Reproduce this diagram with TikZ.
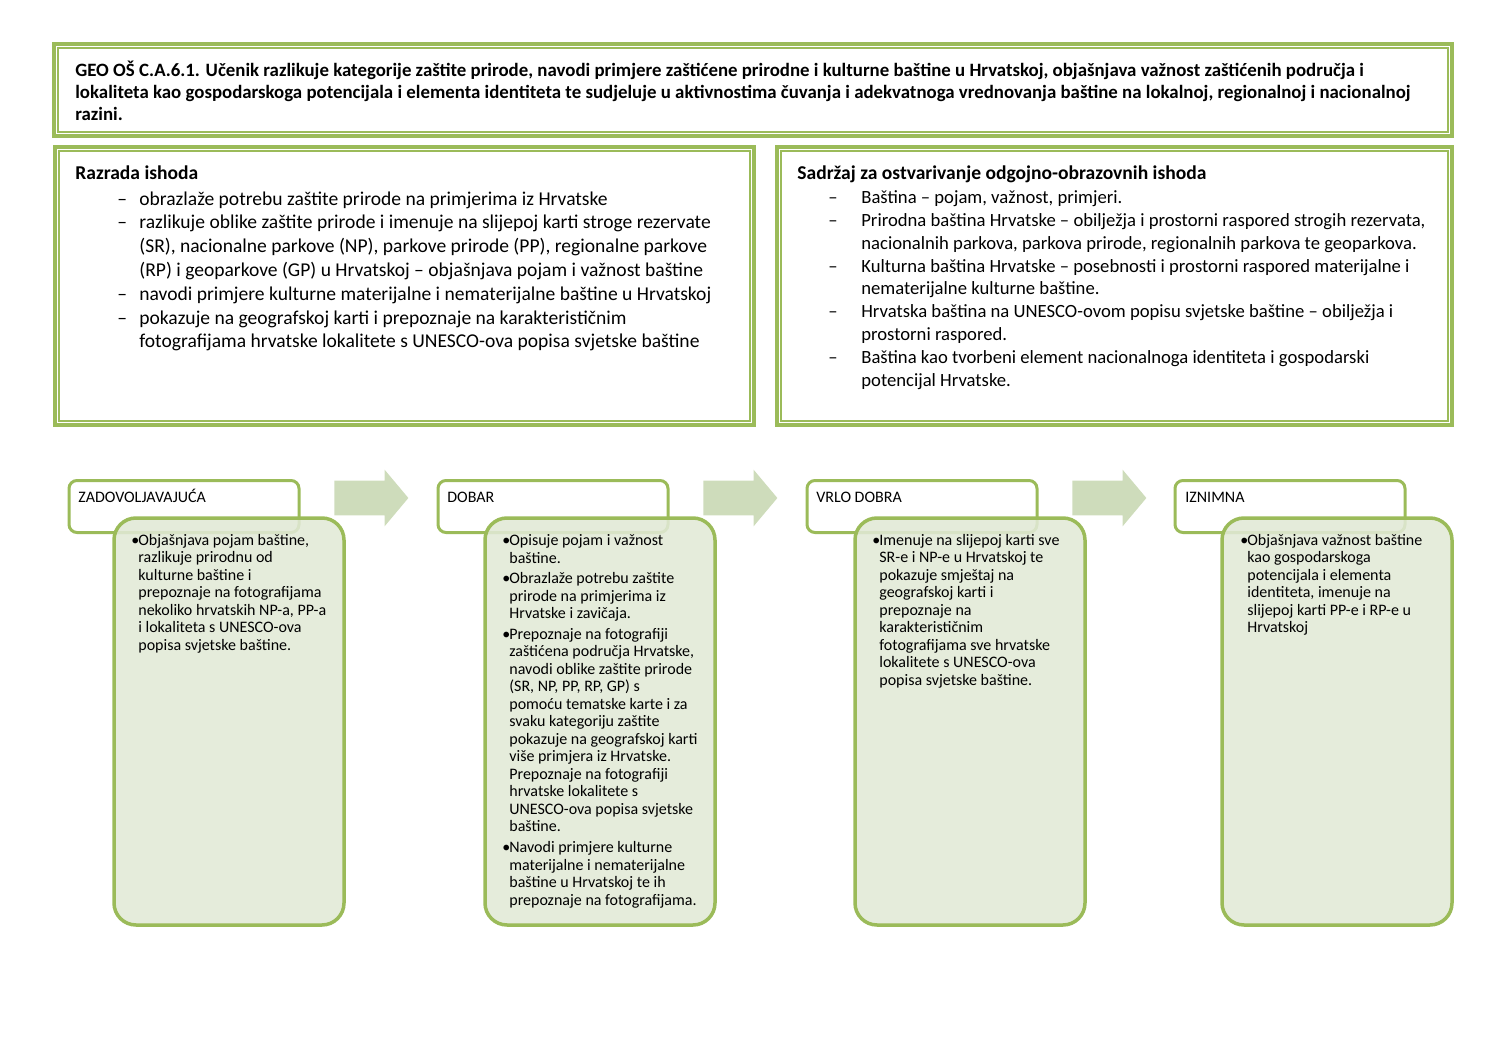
\documentclass[tikz,border=0pt]{standalone}
\usepackage{fontspec}
\setmainfont{Carlito}
\usepackage{xcolor}
\usetikzlibrary{shapes.arrows, positioning}
\definecolor{olivegreen}{HTML}{9BBB59}
\definecolor{palegreen}{HTML}{E1E9D6}
\definecolor{arrowgreen}{HTML}{CEDCBB}
\newlength\unitpx
\setlength\unitpx{0.5625pt}
\setlength\lineskiplimit{-\maxdimen}
\newcommand{\ditem}[1]{\hspace*{#1\unitpx}\makebox[\dimexpr 64\unitpx-#1\unitpx\relax][l]{–}}
\newcommand{\cont}{\hspace*{64\unitpx}}
\newcommand{\bul}{\makebox[7\unitpx][l]{\textbullet}}
\newcommand{\hang}{\hspace*{7\unitpx}}
\tikzset{
  outerframe/.style={rectangle, draw=olivegreen, line width=4\unitpx, inner sep=0pt},
  innerframe/.style={draw=olivegreen, line width=1.5\unitpx},
  hdrbox/.style={rectangle, rounded corners=8\unitpx, draw=olivegreen, line width=3\unitpx, fill=white,
                 minimum width=230\unitpx, minimum height=52\unitpx, inner sep=0pt},
  bodybox/.style={rectangle, rounded corners=22\unitpx, draw=olivegreen, line width=3.5\unitpx,
                  fill=palegreen, fill opacity=0.88, draw opacity=1,
                  minimum width=230\unitpx, minimum height=407\unitpx, inner sep=0pt},
  steparrow/.style={single arrow, fill=arrowgreen, draw=none, inner xsep=0pt, inner ysep=17\unitpx,
                    single arrow head extend=11\unitpx, single arrow tip angle=100,
                    minimum height=74\unitpx, anchor=west},
  % multi-line nodes: the base is the baseline of the last line
  toptext/.style={anchor=base west, inner sep=0pt, align=left, font=\fontsize{10.6}{12.4}\selectfont\bfseries},
  listtext/.style={anchor=base west, inner sep=0pt, align=left},
  hdrtext/.style={anchor=base west, inner sep=0pt, font=\fontsize{9}{9.8}\selectfont},
  bodytext/.style={anchor=base west, inner sep=0pt, align=left, font=\fontsize{9}{9.84}\selectfont},
}

\begin{document}
\begin{tikzpicture}[x=0.5625pt, y=-0.5625pt]
\useasboundingbox (0,0) rectangle (1497,1058);

% outcome and the two upper frames
\node[outerframe, minimum width=1398\unitpx, minimum height=92\unitpx] (topframe) at (753,90) {};
\draw[innerframe] ([shift={(6,6)}]topframe.north west) rectangle ([shift={(-6,-6)}]topframe.south east);
\node[outerframe, minimum width=699\unitpx, minimum height=278\unitpx] (razframe) at (404.5,286) {};
\draw[innerframe] ([shift={(6,6)}]razframe.north west) rectangle ([shift={(-6,-6)}]razframe.south east);
\node[outerframe, minimum width=675\unitpx, minimum height=278\unitpx] (sadframe) at (1114.5,286) {};
\draw[innerframe] ([shift={(6,6)}]sadframe.north west) rectangle ([shift={(-6,-6)}]sadframe.south east);

\node[toptext] (ishod) at (75,121) {GEO OŠ C.A.6.1. Učenik razlikuje kategorije zaštite prirode, navodi primjere zaštićene prirodne i kulturne baštine u Hrvatskoj, objašnjava važnost zaštićenih područja i\\
lokaliteta kao gospodarskoga potencijala i elementa identiteta te sudjeluje u aktivnostima čuvanja i adekvatnoga vrednovanja baštine na lokalnoj, regionalnoj i nacionalnoj\\
razini.};

\node[listtext, font=\fontsize{11}{13.4}\selectfont] (razrada) at (75,348) {\textbf{Razrada ishoda}\\[0.7pt]
\ditem{42}obrazlaže potrebu zaštite prirode na primjerima iz Hrvatske\\
\ditem{42}razlikuje oblike zaštite prirode i imenuje na slijepoj karti stroge rezervate\\
\cont(SR), nacionalne parkove (NP), parkove prirode (PP), regionalne parkove\\
\cont(RP) i geoparkove (GP) u Hrvatskoj – objašnjava pojam i važnost baštine\\
\ditem{42}navodi primjere kulturne materijalne i nematerijalne baštine u Hrvatskoj\\
\ditem{42}pokazuje na geografskoj karti i prepoznaje na karakterističnim\\
\cont fotografijama hrvatske lokalitete s UNESCO-ova popisa svjetske baštine};

\node[listtext, font=\fontsize{10.5}{12.8}\selectfont] (sadrzaj) at (797,386) {\textbf{\fontsize{11}{12.8}\selectfont Sadržaj za ostvarivanje odgojno-obrazovnih ishoda}\\[1pt]
\ditem{31}Baština – pojam, važnost, primjeri.\\
\ditem{31}Prirodna baština Hrvatske – obilježja i prostorni raspored strogih rezervata,\\
\cont nacionalnih parkova, parkova prirode, regionalnih parkova te geoparkova.\\
\ditem{31}Kulturna baština Hrvatske – posebnosti i prostorni raspored materijalne i\\
\cont nematerijalne kulturne baštine.\\
\ditem{31}Hrvatska baština na UNESCO-ovom popisu svjetske baštine – obilježja i\\
\cont prostorni raspored.\\
\ditem{31}Baština kao tvorbeni element nacionalnoga identiteta i gospodarski\\
\cont potencijal Hrvatske.};

% grade levels
\node[hdrbox] (hdr1) at (184,506.5) {};
\node[hdrbox] (hdr2) at (553,506.5) {};
\node[hdrbox] (hdr3) at (922,506.5) {};
\node[hdrbox] (hdr4) at (1290,506.5) {};
\node[hdrtext] (lvl1) at (78,502)   {ZADOVOLJAVAJUĆA};
\node[hdrtext] (lvl2) at (447,502)  {DOBAR};
\node[hdrtext] (lvl3) at (816,502)  {VRLO DOBRA};
\node[hdrtext] (lvl4) at (1185,502) {IZNIMNA};

\node[bodybox] (body1) at (229,721.5)  {};
\node[bodybox] (body2) at (600,721.5)  {};
\node[bodybox] (body3) at (970,721.5)  {};
\node[bodybox] (body4) at (1337,721.5) {};

\node[steparrow] (arr1) at (334,498)  {};
\node[steparrow] (arr2) at (703,498)  {};
\node[steparrow] (arr3) at (1072,498) {};

\node[bodytext] (desc1) at (131,650) {\bul Objašnjava pojam baštine,\\
\hang razlikuje prirodnu od\\
\hang kulturne baštine i\\
\hang prepoznaje na fotografijama\\
\hang nekoliko hrvatskih NP-a, PP-a\\
\hang i lokaliteta s UNESCO-ova\\
\hang popisa svjetske baštine.};

\node[bodytext] (desc2) at (502,905) {\bul Opisuje pojam i važnost\\
\hang baštine.\\[1.8pt]
\bul Obrazlaže potrebu zaštite\\
\hang prirode na primjerima iz\\
\hang Hrvatske i zavičaja.\\[1.8pt]
\bul Prepoznaje na fotografiji\\
\hang zaštićena područja Hrvatske,\\
\hang navodi oblike zaštite prirode\\
\hang (SR, NP, PP, RP, GP) s\\
\hang pomoću tematske karte i za\\
\hang svaku kategoriju zaštite\\
\hang pokazuje na geografskoj karti\\
\hang više primjera iz Hrvatske.\\
\hang Prepoznaje na fotografiji\\
\hang hrvatske lokalitete s\\
\hang UNESCO-ova popisa svjetske\\
\hang baštine.\\[1.8pt]
\bul Navodi primjere kulturne\\
\hang materijalne i nematerijalne\\
\hang baštine u Hrvatskoj te ih\\
\hang prepoznaje na fotografijama.};

\node[bodytext] (desc3) at (872,685) {\bul Imenuje na slijepoj karti sve\\
\hang SR-e i NP-e u Hrvatskoj te\\
\hang pokazuje smještaj na\\
\hang geografskoj karti i\\
\hang prepoznaje na\\
\hang karakterističnim\\
\hang fotografijama sve hrvatske\\
\hang lokalitete s UNESCO-ova\\
\hang popisa svjetske baštine.};

\node[bodytext] (desc4) at (1240,632.5) {\bul Objašnjava važnost baštine\\
\hang kao gospodarskoga\\
\hang potencijala i elementa\\
\hang identiteta, imenuje na\\
\hang slijepoj karti PP-e i RP-e u\\
\hang Hrvatskoj};
\end{tikzpicture}
\end{document}
